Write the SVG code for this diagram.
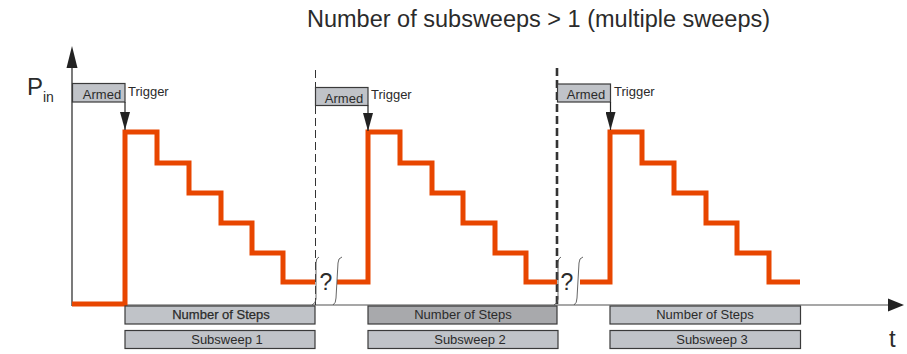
<svg xmlns="http://www.w3.org/2000/svg" width="907" height="354" viewBox="0 0 907 354">
<style>
text{font-family:"Liberation Sans",Arial,sans-serif;fill:#2b2b2b}
.box{fill:#c0c3c8;stroke:#3a3a3a;stroke-width:1.2}
.boxd{fill:#a8a9ac;stroke:#3a3a3a;stroke-width:1.2}
.lbl{font-size:13px;text-anchor:middle}
.trg{font-size:13px}
.wave{fill:none;stroke:#e84600;stroke-width:5;stroke-linejoin:miter;stroke-linecap:butt}
.brk{fill:none;stroke:#555;stroke-width:0.9}
.q{font-size:23px;text-anchor:middle}
.arr{stroke:#222;stroke-width:1.2;fill:none}
</style>
<defs>
<marker id="ah" markerWidth="10" markerHeight="20" refX="5" refY="18" orient="0" markerUnits="userSpaceOnUse" viewBox="0 0 10 20">
<path d="M0,0 L10,0 L5,18 Z" fill="#222"/>
</marker>
</defs>
<rect width="907" height="354" fill="#fff"/>

<g id="title"><text x="307" y="27" style="font-size:23.5px">Number of subsweeps &gt; 1 (multiple sweeps)</text></g>

<g id="axes">
<line x1="72" y1="306" x2="72" y2="66" stroke="#333" stroke-width="1.3"/>
<path d="M72,46 L66.5,68 L77.5,68 Z" fill="#222"/>
<line x1="72" y1="305" x2="889" y2="305" stroke="#8a8a8a" stroke-width="1.6"/>
<path d="M904,305 L888,298.5 L888,311.5 Z" fill="#222"/>
<text x="27" y="95" style="font-size:24px">P</text>
<text x="43" y="102" style="font-size:14px">in</text>
<text x="889" y="347" style="font-size:24px">t</text>
</g>

<g id="separators">
<line x1="315.5" y1="70" x2="315.5" y2="305" stroke="#333" stroke-width="1" stroke-dasharray="8,4"/>
<line x1="557" y1="68" x2="557" y2="305" stroke="#333" stroke-width="2.6" stroke-dasharray="8,4"/>
</g>

<g id="waveform">
<path class="wave" d="M72,304 H125 V132 H157 V163 H189 V193 H221 V223 H252 V253 H283 V282 H315"/>
<path class="wave" d="M337,282 H368 V132 H400 V163 H432 V193 H463 V223 H495 V253 H526 V282 H557"/>
<path class="wave" d="M580,282 H610 V132 H642 V163 H674 V193 H706 V223 H737 V253 H769 V282 H800"/>
</g>

<g id="break1">
<path class="brk" d="M319,257 q-3,1 -3,6 V299 q0,4 -4,6"/>
<path class="brk" d="M342,257 q-4,1 -4,6 L336,298 q0,5 -3,7"/>
<text class="q" x="326" y="290">?</text>
</g>
<g id="break2">
<path class="brk" d="M561,257 q-3,1 -3,6 V299 q0,4 -4,6"/>
<path class="brk" d="M583,257 q-4,1 -4,6 L577,298 q0,5 -3,7"/>
<text class="q" x="567" y="290">?</text>
</g>

<g id="armed1"><rect class="box" x="72.5" y="83.5" width="52.5" height="18.5"/><text class="lbl" x="102" y="99">Armed</text><text class="trg" x="128" y="96">Trigger</text></g>
<g id="armed2"><rect class="box" x="315.5" y="87.5" width="52.5" height="18"/><text class="lbl" x="344" y="102.5">Armed</text><text class="trg" x="371" y="99">Trigger</text></g>
<g id="armed3"><rect class="box" x="557.5" y="84" width="53" height="18"/><text class="lbl" x="586" y="99">Armed</text><text class="trg" x="614" y="96">Trigger</text></g>

<g id="steps1"><rect class="box" x="125" y="306" width="190" height="18"/><text class="lbl" x="221" y="318.5" style="stroke:#2b2b2b;stroke-width:0.25">Number of Steps</text></g>
<g id="steps2"><rect class="boxd" x="368" y="306" width="189" height="18"/><text class="lbl" x="463" y="318.5">Number of Steps</text></g>
<g id="steps3"><rect class="box" x="610" y="306" width="190.5" height="18"/><text class="lbl" x="705" y="318.5">Number of Steps</text></g>

<g id="subsweep1"><rect class="box" x="125" y="330.5" width="190" height="18"/><text class="lbl" x="227" y="344">Subsweep 1</text></g>
<g id="subsweep2"><rect class="box" x="368" y="330.5" width="190" height="18"/><text class="lbl" x="470" y="344">Subsweep 2</text></g>
<g id="subsweep3"><rect class="box" x="610" y="330.5" width="190.5" height="18"/><text class="lbl" x="712" y="344">Subsweep 3</text></g>

<g id="connectors">
<line class="arr" x1="125" y1="102" x2="125" y2="130" marker-end="url(#ah)"/>
<line class="arr" x1="368" y1="105.5" x2="368" y2="131" marker-end="url(#ah)"/>
<line class="arr" x1="610.5" y1="102" x2="610.5" y2="130" marker-end="url(#ah)"/>
</g>
</svg>
